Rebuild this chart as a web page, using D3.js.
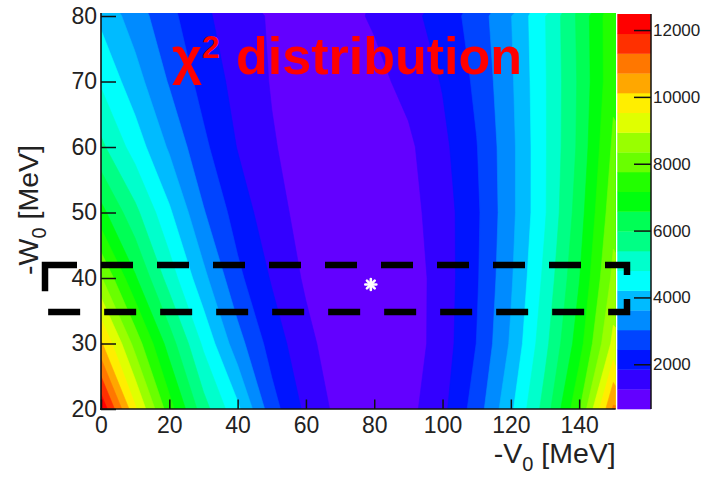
<!DOCTYPE html>
<html>
<head>
<meta charset="utf-8">
<script src="https://cdn.jsdelivr.net/npm/d3@7"></script>
<style>
  html, body { margin: 0; padding: 0; background: #fff; }
  svg { display: block; }
  text { font-family: "Liberation Sans", Arial, Helvetica, sans-serif; }
</style>
</head>
<body>
<svg id="chart" width="702" height="479"></svg>
<script>
// Grid of the chi-square scan: -V0 (columns) and -W0 (rows), in MeV
const v0Grid = [0, 10, 20, 30, 40, 50, 60, 70, 80, 90, 100, 110, 120, 130, 140, 150];
const w0Grid = [20, 30, 40, 50, 60, 70, 80];

// chi-square values along each -W0 row (one entry per -V0 column)
const chi2W20 = [12400, 9621, 7418, 5638, 4340, 2680, 1708, 1052, 850, 1074, 1690, 2723, 4087, 5632, 7679, 10806];
const chi2W30 = [10204, 8115, 6295, 4683, 3262, 2173, 1425, 886, 720, 923, 1540, 2448, 3693, 5207, 6897, 9103];
const chi2W40 = [8400, 6647, 5126, 3778, 2581, 1786, 1161, 768, 690, 925, 1525, 2365, 3536, 4950, 6536, 8500];
const chi2W50 = [6768, 5549, 4305, 3074, 2168, 1482, 1035, 842, 847, 1050, 1559, 2330, 3442, 4744, 6293, 8147];
const chi2W60 = [5520, 4531, 3531, 2565, 1818, 1304, 995, 873, 930, 1140, 1692, 2412, 3442, 4739, 6115, 7870];
const chi2W70 = [4720, 3860, 2970, 2213, 1646, 1215, 986, 936, 1086, 1423, 1882, 2557, 3518, 4745, 6076, 7612];
const chi2W80 = [4071, 3321, 2604, 1957, 1529, 1180, 1006, 1056, 1324, 1669, 2094, 2704, 3591, 4776, 6124, 7612];
const chi2Rows = [chi2W20, chi2W30, chi2W40, chi2W50, chi2W60, chi2W70, chi2W80];

// colour scale range and number of contour levels
const zRange = [662, 12480];
const nLevels = 20;

// axis ticks
const xTickValues = [0, 20, 40, 60, 80, 100, 120, 140];
const yTickValues = [20, 30, 40, 50, 60, 70, 80];
const zTickValues = [2000, 4000, 6000, 8000, 10000, 12000];

// best-fit point and the highlighted -W0 band
const bestFit = { v0: 79, w0: 39 };
const bandW0 = [34.8, 42.0];

// ---------------------------------------------------------------
const svg = d3.select("#chart");
const plot = { left: 101, right: 615.7, top: 13, bottom: 409 };

const x = d3.scaleLinear().domain([0, 150.7]).range([plot.left, plot.right]);
const y = d3.scaleLinear().domain([20, 80.46]).range([plot.bottom, plot.top]);

// contour levels as in a ROOT colz/cont plot: equally spaced between min and max
const levels = d3.range(nLevels).map(k => zRange[0] + k * (zRange[1] - zRange[0]) / nLevels);

// ROOT "pretty" palette: 50 hues from violet to red, 20 of them picked for the levels
const paletteHue = i => 280 - (i + 1) * 280 / 50;
const levelColor = k => {
  const idx = Math.floor((k + 0.99) * 50 / nLevels);
  return d3.hsl(paletteHue(idx), 1, 0.5).formatHex();
};

svg.append("defs").append("clipPath").attr("id", "plotClip")
  .append("rect")
  .attr("x", plot.left).attr("y", plot.top)
  .attr("width", plot.right - plot.left).attr("height", plot.bottom - plot.top);

// filled contour bands
const nx = v0Grid.length, ny = w0Grid.length;
const values = chi2Rows.flat();
const contours = d3.contours().size([nx, ny]).thresholds(levels)(values);
const dv = v0Grid[1] - v0Grid[0], dw = w0Grid[1] - w0Grid[0];
const gridProj = d3.geoTransform({
  point(px, py) {
    this.stream.point(x(v0Grid[0] + (px - 0.5) * dv), y(w0Grid[0] + (py - 0.5) * dw));
  }
});
const contourPath = d3.geoPath(gridProj);

svg.append("g").attr("clip-path", "url(#plotClip)")
  .selectAll("path")
  .data(contours)
  .join("path")
  .attr("d", contourPath)
  .attr("fill", (d, i) => levelColor(i))
  .attr("stroke", (d, i) => levelColor(i))
  .attr("stroke-width", 0.6);

// best-fit marker (asterisk)
const star = svg.append("g")
  .attr("transform", `translate(${x(bestFit.v0)},${y(bestFit.w0)})`)
  .attr("stroke", "#fff").attr("stroke-width", 2.6).attr("stroke-linecap", "round");
[0, 45, 90, 135].forEach(a => {
  const r = 5.5, t = a * Math.PI / 180;
  star.append("line")
    .attr("x1", -r * Math.cos(t)).attr("y1", -r * Math.sin(t))
    .attr("x2", r * Math.cos(t)).attr("y2", r * Math.sin(t));
});

// axes with ticks pointing into the frame
const axisColor = "#111";
const labelColor = "#222";

const gx = svg.append("g").attr("transform", `translate(0,${plot.bottom})`);
gx.call(d3.axisBottom(x).tickValues(d3.range(0, 151, 5)).tickSize(-4.5).tickFormat(""));
gx.call(d3.axisBottom(x).tickValues(xTickValues).tickSize(-9.5).tickPadding(8).tickFormat(d3.format("d")));
gx.select(".domain").remove();
gx.append("line").attr("x1", plot.left - 1).attr("x2", plot.right).attr("stroke", axisColor).attr("stroke-width", 1.6);

const gy = svg.append("g").attr("transform", `translate(${plot.left},0)`);
gy.call(d3.axisLeft(y).tickValues(d3.range(20, 81, 2)).tickSize(-8).tickFormat(""));
gy.call(d3.axisLeft(y).tickValues(yTickValues).tickSize(-15).tickPadding(4).tickFormat(d3.format("d")));
gy.select(".domain").remove();
gy.append("line").attr("y1", plot.top).attr("y2", plot.bottom + 1).attr("stroke", axisColor).attr("stroke-width", 1.6);

[gx, gy].forEach(g => {
  g.selectAll(".tick line").attr("stroke", axisColor).attr("stroke-width", 1.5);
  g.selectAll(".tick text").attr("fill", labelColor).attr("font-size", 23)
    .attr("font-family", "'Liberation Sans', Arial, sans-serif");
});

// axis titles
const xTitle = svg.append("text")
  .attr("x", plot.right).attr("y", 463)
  .attr("text-anchor", "end").attr("font-size", 28.5).attr("fill", labelColor);
xTitle.append("tspan").text("-V");
xTitle.append("tspan").attr("dy", 8).attr("font-size", 20).text("0");
xTitle.append("tspan").attr("dy", -8).text(" [MeV]");

const yTitle = svg.append("text")
  .attr("transform", "translate(38,210) rotate(-90)")
  .attr("text-anchor", "middle").attr("font-size", 28.5).attr("fill", labelColor);
yTitle.append("tspan").text("-W");
yTitle.append("tspan").attr("dy", 8).attr("font-size", 20).text("0");
yTitle.append("tspan").attr("dy", -8).text(" [MeV]");

// colour bar
const bar = { left: 617.3, right: 651 };
const z = d3.scaleLinear().domain(zRange).range([plot.bottom, 14]);
svg.append("g").selectAll("rect")
  .data(levels)
  .join("rect")
  .attr("x", bar.left)
  .attr("width", bar.right - bar.left)
  .attr("y", (d, i) => z(i + 1 < nLevels ? levels[i + 1] : zRange[1]))
  .attr("height", (d, i) => z(d) - z(i + 1 < nLevels ? levels[i + 1] : zRange[1]) + 0.3)
  .attr("fill", (d, i) => levelColor(i));

const gz = svg.append("g").attr("transform", `translate(${bar.right},0)`);
gz.call(d3.axisRight(z).tickValues(zTickValues).tickSize(-17).tickPadding(2).tickFormat(d3.format("d")));
gz.select(".domain").remove();
gz.append("line").attr("y1", 14).attr("y2", plot.bottom).attr("stroke", axisColor).attr("stroke-width", 1.5);
gz.selectAll(".tick line").attr("stroke", axisColor).attr("stroke-width", 1.5);
gz.selectAll(".tick text").attr("fill", labelColor).attr("font-size", 17)
  .attr("font-family", "'Liberation Sans', Arial, sans-serif");

// title
const title = svg.append("text")
  .attr("x", 172).attr("y", 74)
  .attr("fill", "#ff0000").attr("font-weight", "bold").attr("font-size", 52);
title.append("tspan").text("\u03c7");
title.append("tspan").attr("dy", -16).attr("font-size", 32).text("2");
title.append("tspan").attr("x", 236).attr("y", 74).text("distribution");

// dashed box around the best-fit -W0 band
const boxLeft = 45, boxRight = 627;
const yTop = y(bandW0[1]), yBot = y(bandW0[0]);
svg.append("path")
  .attr("d", `M${boxLeft},${yTop}H${boxRight}V${yBot}H${boxLeft}Z`)
  .attr("fill", "none").attr("stroke", "#000").attr("stroke-width", 6.5)
  .attr("stroke-dasharray", "32 24");
</script>
</body>
</html>
